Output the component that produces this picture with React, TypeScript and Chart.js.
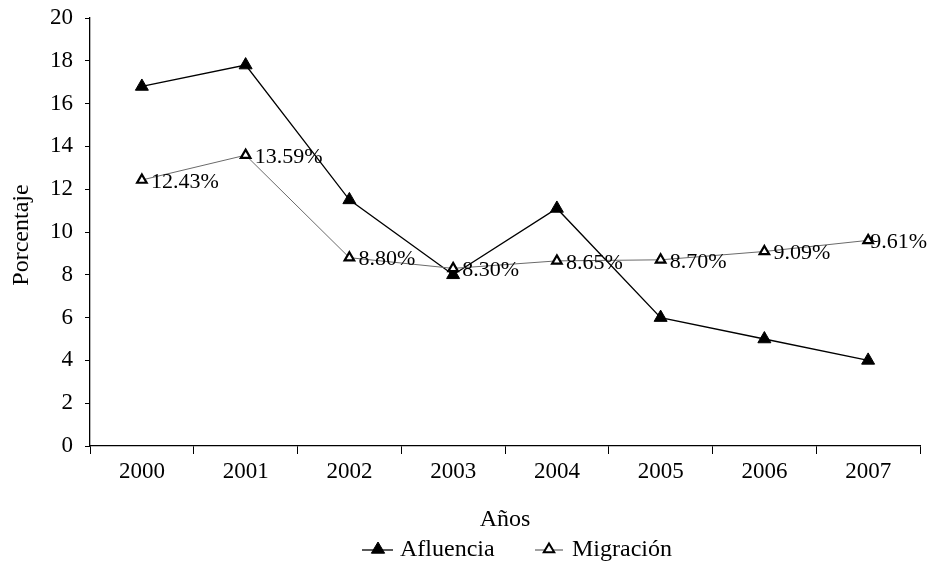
import React, { useEffect, useRef } from "react";
import { Chart, registerables } from "chart.js";

Chart.register(...registerables);

const years = ["2000", "2001", "2002", "2003", "2004", "2005", "2006", "2007"];
const afluencia = [16.8, 17.8, 11.5, 8.0, 11.1, 6.0, 5.0, 4.0];
const migracion = [12.43, 13.59, 8.8, 8.3, 8.65, 8.7, 9.09, 9.61];
const yTicks = [0, 2, 4, 6, 8, 10, 12, 14, 16, 18, 20];

const FONT = '"Liberation Serif", "Times New Roman", serif';

const overlay = {
  id: "overlay",
  afterDatasetsDraw(chart: any) {
    const ctx = chart.ctx;
    const meta = chart.getDatasetMeta(1);
    ctx.save();
    ctx.fillStyle = "#000";
    ctx.font = `22px ${FONT}`;
    ctx.textAlign = "left";
    ctx.textBaseline = "middle";
    meta.data.forEach((pt: any, i: number) => {
      const text = migracion[i].toFixed(2) + "%";
      const w = ctx.measureText(text).width;
      let x = pt.x + 9;
      // keep the label inside the canvas
      if (x + w > chart.width - 4) x = chart.width - 4 - w;
      ctx.fillText(text, x, pt.y + 2);
    });
    ctx.restore();
  },
  afterDraw(chart: any) {
    const ctx = chart.ctx;
    const area = chart.chartArea;
    ctx.save();
    ctx.fillStyle = "#000";
    ctx.font = `24px ${FONT}`;
    ctx.textAlign = "center";
    ctx.textBaseline = "middle";
    // axis titles
    ctx.fillText("Años", (area.left + area.right) / 2, 520);
    ctx.save();
    ctx.translate(22, 235);
    ctx.rotate(-Math.PI / 2);
    ctx.fillText("Porcentaje", 0, 0);
    ctx.restore();

    // legend
    const drawTri = (cx: number, cy: number, r: number, filled: boolean) => {
      ctx.beginPath();
      ctx.moveTo(cx, cy - r);
      ctx.lineTo(cx + r * 0.95, cy + r * 0.6);
      ctx.lineTo(cx - r * 0.95, cy + r * 0.6);
      ctx.closePath();
      ctx.fillStyle = filled ? "#000" : "#fff";
      ctx.fill();
      ctx.lineWidth = filled ? 1 : 2;
      ctx.strokeStyle = "#000";
      ctx.stroke();
    };
    const ly = 550;
    ctx.textAlign = "left";
    ctx.lineWidth = 1.3;
    ctx.strokeStyle = "#000";
    ctx.beginPath();
    ctx.moveTo(362, ly);
    ctx.lineTo(393, ly);
    ctx.stroke();
    drawTri(378, ly - 1, 7, true);
    ctx.fillStyle = "#000";
    ctx.fillText("Afluencia", 400, ly);

    ctx.strokeStyle = "#444";
    ctx.lineWidth = 1;
    ctx.beginPath();
    ctx.moveTo(535, ly);
    ctx.lineTo(563, ly);
    ctx.stroke();
    drawTri(549, ly - 1, 5.5, false);
    ctx.fillStyle = "#000";
    ctx.fillText("Migración", 572, ly);
    ctx.restore();
  },
};

export default function App() {
  const ref = useRef<HTMLCanvasElement>(null);

  useEffect(() => {
    if (!ref.current) return;
    const chart = new Chart(ref.current, {
      type: "line",
      data: {
        labels: years,
        datasets: [
          {
            label: "Afluencia",
            data: afluencia,
            borderColor: "#000",
            borderWidth: 1.3,
            backgroundColor: "#000",
            pointStyle: "triangle",
            pointRadius: 7.5,
            pointBorderWidth: 1,
            pointBackgroundColor: "#000",
            pointBorderColor: "#000",
            tension: 0,
            order: 2,
          },
          {
            label: "Migración",
            data: migracion,
            borderColor: "#6a6a6a",
            borderWidth: 1,
            backgroundColor: "#fff",
            pointStyle: "triangle",
            pointRadius: 5.5,
            pointBorderWidth: 2.2,
            pointBackgroundColor: "#fff",
            pointBorderColor: "#000",
            tension: 0,
            order: 1,
          },
        ],
      },
      options: {
        responsive: false,
        animation: false,
        layout: { padding: { top: 18, right: 11, left: 0, bottom: 0 } },
        plugins: {
          legend: { display: false },
          tooltip: { enabled: false },
        },
        scales: {
          x: {
            offset: true,
            grid: {
              offset: true,
              drawOnChartArea: false,
              drawTicks: true,
              tickLength: 8,
              color: "#000",
            },
            border: { color: "#000", width: 1.3 },
            ticks: {
              color: "#000",
              font: { family: FONT, size: 23 },
              padding: 4,
              maxRotation: 0,
            },
            afterFit(scale: any) {
              scale.height = 115;
            },
          },
          y: {
            min: 0,
            max: 20,
            afterBuildTicks(scale: any) {
              scale.ticks = yTicks.map((v) => ({ value: v }));
            },
            grid: {
              drawOnChartArea: false,
              drawTicks: true,
              tickLength: 5,
              color: "#000",
            },
            border: { color: "#000", width: 1.3 },
            ticks: {
              color: "#000",
              font: { family: FONT, size: 23 },
              padding: 12,
            },
            afterFit(scale: any) {
              scale.width = 90;
              scale.paddingTop = 0;
              scale.paddingBottom = 0;
            },
          },
        },
      },
      plugins: [overlay],
    });
    return () => chart.destroy();
  }, []);

  return (
    <div style={{ position: "fixed", left: 0, top: 0, width: 931, height: 561, background: "#fff" }}>
      <canvas ref={ref} width={931} height={561} />
    </div>
  );
}
